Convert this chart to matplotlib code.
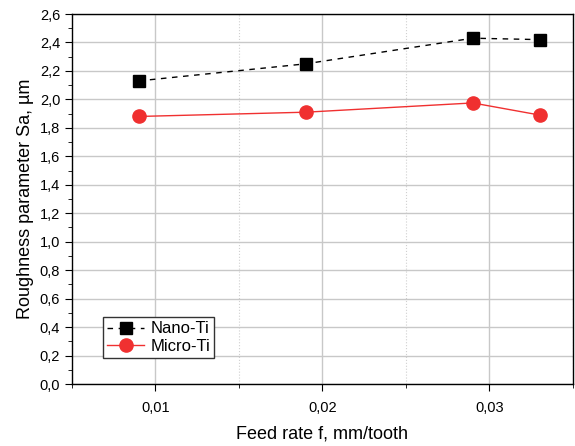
import matplotlib
matplotlib.use('Agg')
import matplotlib.pyplot as plt
from matplotlib.ticker import MultipleLocator, FuncFormatter

plt.rcParams['font.family'] = ['Liberation Sans', 'DejaVu Sans']

feed = [0.009, 0.019, 0.029, 0.033]
nano_ti = [2.13, 2.25, 2.43, 2.42]
micro_ti = [1.88, 1.91, 1.975, 1.89]

fig = plt.figure(figsize=(5.75, 4.46), dpi=100)
ax = fig.add_axes([72/575, 62/446, 501/575, 370/446])

ax.plot(feed, nano_ti, color='black', ls=(0, (4, 4)), lw=1, marker='s', ms=8.5,
        label='Nano-Ti', zorder=3)
ax.plot(feed, micro_ti, color='#f03030', ls='-', lw=1, marker='o', ms=9.5,
        label='Micro-Ti', zorder=3)

ax.set_xlim(0.005, 0.035)
ax.set_ylim(0, 2.6)
ax.xaxis.set_major_locator(MultipleLocator(0.01))
ax.xaxis.set_minor_locator(MultipleLocator(0.005))
ax.yaxis.set_major_locator(MultipleLocator(0.2))
ax.yaxis.set_minor_locator(MultipleLocator(0.1))
ax.xaxis.set_major_formatter(FuncFormatter(lambda v, p: f'{v:.2f}'.replace('.', ',')))
ax.yaxis.set_major_formatter(FuncFormatter(lambda v, p: f'{v:.1f}'.replace('.', ',')))

ax.grid(True, which='major', color='#c8c8c8', lw=1)
ax.grid(True, which='minor', axis='x', color='#d0d0d0', lw=0.8, ls=':')
ax.set_axisbelow(True)

ax.tick_params(which='both', direction='out', labelsize=10.5, top=False, right=False)
ax.tick_params(which='major', length=5)
ax.tick_params(which='minor', length=3)
ax.tick_params(axis='x', which='major', pad=7)
for s in ax.spines.values():
    s.set_linewidth(1)

ax.set_xlabel('Feed rate f, mm/tooth', fontsize=13, labelpad=8)
ax.set_ylabel('Roughness parameter Sa, µm', fontsize=13)

ax.legend(loc='lower left', bbox_to_anchor=(0.062, 0.07), fontsize=12,
          fancybox=False, edgecolor='#333333', framealpha=1, handlelength=2.2,
          borderpad=0.25, labelspacing=0.15, handletextpad=0.4, borderaxespad=0)

fig.savefig('out.png', dpi=100)
